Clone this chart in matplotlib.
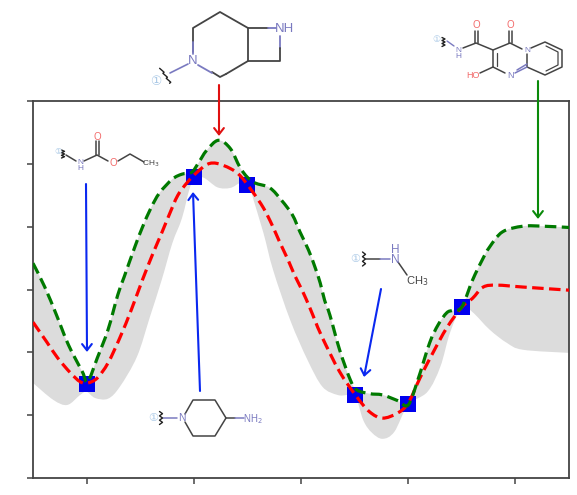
import numpy as np
import matplotlib
matplotlib.use("Agg")
import matplotlib.pyplot as plt
from matplotlib.path import Path
from matplotlib.patches import PathPatch

green_x = [.5,.61,.72,.83,.96,1.01,1.10,1.20,1.29,1.35,1.45,1.52,1.60,1.68,1.80,1.89,1.98,2.04,2.12,2.23,2.34,2.43,2.50,2.57,2.71,2.82,2.92,2.99,3.07,3.13,3.18,3.22,3.27,3.36,3.46,3.52,3.64,3.76,3.90,4.0,4.09,4.20,4.28,4.36,4.42,4.50,4.60,4.69,4.76,4.88,5.07,5.26,5.50]
green_y = [3.42,3.04,2.59,2.12,1.69,1.53,1.91,2.36,2.91,3.20,3.68,3.99,4.30,4.54,4.76,4.84,4.87,5.01,5.22,5.38,5.25,4.95,4.79,4.70,4.62,4.42,4.19,3.92,3.63,3.36,3.10,2.83,2.59,2.04,1.56,1.40,1.34,1.32,1.23,1.16,1.56,2.15,2.44,2.63,2.67,2.72,3.15,3.47,3.68,3.92,4.01,4.01,3.99]

red_x = [.5,.63,.73,.85,.94,1.01,1.10,1.20,1.31,1.42,1.52,1.62,1.70,1.77,1.85,1.94,2.03,2.13,2.22,2.34,2.43,2.54,2.65,2.73,2.80,2.88,2.94,3.01,3.08,3.13,3.20,3.36,3.52,3.64,3.76,3.90,4.0,4.11,4.23,4.36,4.50,4.60,4.70,4.83,5.07,5.50]
red_y = [2.48,2.16,1.91,1.67,1.53,1.51,1.59,1.83,2.23,2.69,3.15,3.58,3.90,4.19,4.50,4.71,4.87,5.0,5.01,4.93,4.82,4.58,4.30,4.03,3.76,3.47,3.23,2.99,2.72,2.51,2.23,1.69,1.29,1.05,.95,1.03,1.19,1.59,1.99,2.39,2.72,2.86,3.04,3.07,3.04,2.99]

low_x = [.5,.69,.82,.94,1.0,1.08,1.20,1.31,1.47,1.59,1.70,1.80,1.89,1.98,2.08,2.22,2.34,2.43,2.51,2.55,2.65,2.74,2.90,3.06,3.20,3.34,3.43,3.50,3.58,3.66,3.76,3.87,4.0,4.18,4.30,4.39,4.50,4.60,4.76,4.92,5.07,5.50]
low_y = [1.51,1.24,1.16,1.32,1.37,1.27,1.26,1.45,1.93,2.56,3.15,3.74,4.14,4.70,4.79,4.63,4.62,4.70,4.74,4.47,3.90,3.31,2.51,1.88,1.45,1.32,1.32,1.35,.92,.72,.62,.73,1.16,1.37,1.77,2.31,2.72,2.64,2.36,2.15,2.04,1.99]

obs_x = [1.0,2.0,2.5,3.5,4.0,4.5]
obs_y = [1.50,4.80,4.67,1.32,1.18,2.72]

x_ticks = [1,2,3,4,5]
y_ticks = [0,1,2,3,4,5,6]

DARK = "#444444"
NBLUE = "#7a7ac0"
ORED = "#f26a6a"
MARK = "#a9c8e6"

# bezier pieces through the read points, so the lines bend like the original
def curve_verts(xs, ys):
    p = np.column_stack([xs, ys])
    verts = [p[0]]
    for i in range(len(p)-1):
        p0 = p[max(i-1,0)]
        p3 = p[min(i+2,len(p)-1)]
        verts.append(p[i] + (p[i+1]-p0)/6)
        verts.append(p[i+1] - (p3-p[i])/6)
        verts.append(p[i+1])
    return np.array(verts)

def curve_path(xs, ys):
    v = curve_verts(xs, ys)
    return Path(v, [Path.MOVETO] + [Path.CURVE4]*(len(v)-1))

fig = plt.figure(figsize=(5.77,4.95), dpi=100)
ax = fig.add_axes([33/577, 17.3/495, 536/577, 376.3/495])

# shaded band: green is the top edge
up = curve_verts(green_x, green_y)
lo = curve_verts(low_x[::-1], low_y[::-1])
band = Path(np.vstack([up, lo, up[:1]]),
            [Path.MOVETO] + [Path.CURVE4]*(len(up)-1) + [Path.LINETO] + [Path.CURVE4]*(len(lo)-1) + [Path.CLOSEPOLY])
ax.add_patch(PathPatch(band, facecolor="#dcdcdc", lw=0, zorder=1))
ax.scatter(obs_x, obs_y, marker="s", s=118, color="#0000ee", lw=0, zorder=2)
ax.add_patch(PathPatch(curve_path(red_x, red_y), fill=False, edgecolor="#ff0000", lw=2.3, ls=(0,(3.6,1.7)), zorder=3))
ax.add_patch(PathPatch(curve_path(green_x, green_y), fill=False, edgecolor="#007a00", lw=2.3, ls=(0,(3.6,1.7)), zorder=4))

ax.set_xlim(.5,5.5)
ax.set_ylim(0,6)
ax.set_xticks(x_ticks)
ax.set_yticks(y_ticks)
ax.set_xticklabels([])
ax.set_yticklabels([])
ax.tick_params(length=4, width=1.1, color=DARK)
for s in ax.spines.values():
    s.set_linewidth(1.3)
    s.set_color(DARK)

# overlay in pixel coordinates for the molecule sketches and arrows
ov = fig.add_axes([0,0,1,1])
ov.set_xlim(0,577)
ov.set_ylim(495,0)
ov.axis("off")
ov.patch.set_alpha(0)

def bond(pts, c=DARK, lw=1.1):
    ov.plot([p[0] for p in pts], [p[1] for p in pts], color=c, lw=lw, solid_capstyle="round", zorder=5)

def label(x, y, s, c=NBLUE, size=7):
    ov.text(x, y, s, color=c, fontsize=size, ha="center", va="center", linespacing=.8,
            family=["Liberation Sans","DejaVu Sans"], zorder=6)

def squiggle(x, y, length, lw=1.0):
    n = 7
    pts = []
    for i in range(n):
        off = 1.5 if i % 2 else -1.5
        t = -length/2 + length*i/(n-1)
        pts.append((x+off, y+t))
    bond(pts, "#222222", lw)

def slanted(x0, y0, x1, y1):
    n = 7
    pts = []
    for i in range(n):
        off = 1.4 if i % 2 else -1.4
        t = i/(n-1)
        pts.append((x0+(x1-x0)*t+off, y0+(y1-y0)*t+off*.5))
    bond(pts, "#222222", 1.0)

def arrow(x0, y0, x1, y1, c):
    ov.annotate("", xy=(x1,y1), xytext=(x0,y0), zorder=5,
                arrowprops=dict(arrowstyle="->,head_length=0.45,head_width=0.35", color=c, lw=1.5, shrinkA=0, shrinkB=0))

# top molecule
bond([(193,52),(193,28),(220,12),(248,28),(248,61),(226,74)], DARK, 1.3)
bond([(226,74),(220,77),(212,72)], DARK, 1.3)
bond([(193,42),(193,54)], NBLUE, 1.3)
bond([(198,65),(212,73)], NBLUE, 1.3)
bond([(248,28),(268,28)], DARK, 1.3)
bond([(268,28),(276,28)], NBLUE, 1.3)
bond([(280,36),(280,48)], NBLUE, 1.3)
bond([(280,48),(280,61),(248,61)], DARK, 1.3)
bond([(170,73),(188,64)], NBLUE, 1.2)
slanted(161,69,171,84)
label(193,61,"N",size=9.5)
label(284,29,"NH",size=9.5)
label(156,82,"①",MARK,9)

# top right molecule
bond([(463,48),(476,43),(493,50),(510,43),(522,49)], DARK)
bond([(474.5,43),(474.5,31)], DARK)
bond([(477.5,43),(477.5,31)], DARK)
bond([(508.5,43),(508.5,31)], DARK)
bond([(511.5,43),(511.5,31)], DARK)
bond([(531,48),(545,42),(562,50),(562,67),(545,75),(527,67),(527,54)], DARK)
bond([(546,46),(558,52),(558,65),(546,71)], DARK, .9)
bond([(527,67),(515,73)], NBLUE)
bond([(527,64),(517,70)], NBLUE)
bond([(505,73),(493,67),(493,50)], DARK)
bond([(497,66),(497,53)], DARK, .9)
bond([(493,67),(480,73)], DARK)
squiggle(443.5,42,9)
bond([(447,41),(454,46)], NBLUE, 1.0)
label(458,53,"N\nH",size=6)
label(476,25,"O",ORED,7)
label(510,25,"O",ORED,7)
label(527,50,"N",size=6)
label(510,75,"N",size=6.5)
label(473,75,"HO",ORED,6.5)
label(436,39,"①",MARK,6.5)

# upper left molecule
bond([(66,155),(76,161)], DARK)
bond([(84,161),(97,155),(108,161)], DARK)
bond([(95.5,155),(95.5,141)], DARK)
bond([(98.5,155),(98.5,141)], DARK)
bond([(118,161),(130,154),(144,162)], DARK)
squiggle(63,154,8)
label(58,152,"①",MARK,6)
label(80,166,"N\nH",size=6)
label(97,137,"O",ORED,7)
label(113,163,"O",ORED,7)
label(151,164,"CH$_3$",DARK,6)

# lower piperidine
bond([(163,418),(177,418)], NBLUE)
bond([(185,414),(193,400),(215,400),(226,418),(215,436),(193,436),(185,422)], DARK)
bond([(226,418),(235,418)], DARK)
bond([(235,418),(244,418)], NBLUE)
squiggle(161,418,13)
label(153,418,"①",MARK,8)
label(182,418,"N",size=7.5)
label(253,419,"NH$_2$",NBLUE,7)

# methylamine
bond([(366,259),(380,259)], DARK)
bond([(380,259),(390,259)], NBLUE)
bond([(398,262),(407,275)], DARK)
squiggle(364,259,14)
label(355,259,"①",MARK,8)
label(395,255,"H\nN",size=8.5)
label(417,281,"CH$_3$",DARK,8)

arrow(219,85,219,136,"#e01010")
arrow(538,81,538,219,"#0a8a0a")
arrow(86,184,87,352,"#0a28f0")
arrow(200,391,193,192,"#0a28f0")
arrow(381,289,364,377,"#0a28f0")

fig.savefig("out.png", dpi=100)
